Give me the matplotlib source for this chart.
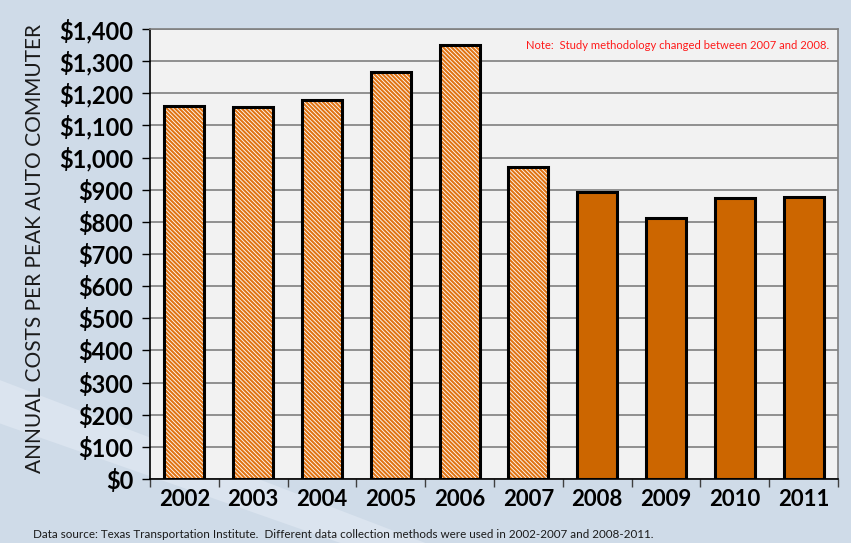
import matplotlib
matplotlib.use("Agg")
import matplotlib.pyplot as plt
from matplotlib.patches import Polygon
from matplotlib.ticker import FuncFormatter, MultipleLocator
import numpy as np

years = ["2002", "2003", "2004", "2005", "2006", "2007", "2008", "2009", "2010", "2011"]
costs = [1160, 1158, 1180, 1265, 1350, 972, 892, 812, 875, 877]
old_method = [True, True, True, True, True, True, False, False, False, False]

note_text = "Note:  Study methodology changed between 2007 and 2008."
source_text = ("Data source: Texas Transportation Institute.  Different data collection "
               "methods were used in 2002-2007 and 2008-2011.")
ylabel_text = "ANNUAL COSTS PER PEAK AUTO COMMUTER"

bold_font = ["Lato", "DejaVu Sans"]
light_font = ["Lato", "DejaVu Sans"]

plt.rcParams["hatch.linewidth"] = 1.5

fig = plt.figure(figsize=(8.51, 5.43), dpi=100)
fig.patch.set_facecolor("#cfdbe8")

# lighter diagonal band across the slide background
band = Polygon([[0.0, 0.30], [0.0, 0.22], [0.40, 0.0], [0.50, 0.0]],
               closed=True, transform=fig.transFigure, facecolor="#dbe4ef",
               edgecolor="none", zorder=-5)
fig.patches.append(band)

ax = fig.add_axes([0.1763, 0.1179, 0.8084, 0.8287])
ax.set_zorder(2)
ax.set_facecolor("#f2f2f2")

x = np.arange(len(years))
width = 0.58

for xi, val, old in zip(x, costs, old_method):
    if old:
        ax.bar(xi, val, width, facecolor="white", edgecolor="#e07414",
               hatch="\\" * 8, linewidth=0, zorder=3)
    else:
        ax.bar(xi, val, width, facecolor="#cc6600", linewidth=0, zorder=3)
    ax.bar(xi, val, width, fill=False, edgecolor="black", linewidth=2.2, zorder=4)

ax.set_ylim(0, 1400)
ax.set_xlim(-0.5, len(years) - 0.5)
ax.yaxis.set_major_locator(MultipleLocator(100))
ax.yaxis.set_major_formatter(FuncFormatter(lambda v, p: f"${v:,.0f}"))
ax.grid(axis="y", color="#7f7f7f", linewidth=1.2, zorder=1)
ax.set_axisbelow(True)

ax.set_xticks(x)
ax.set_xticklabels(years)
ax.set_xticks(np.arange(-0.5, len(years)), minor=True)
ax.tick_params(axis="x", which="major", length=0, pad=7)
ax.tick_params(axis="x", which="minor", length=6, width=1, color="#404040", direction="out")
ax.tick_params(axis="y", length=6, width=1, direction="out", pad=6)

for lab in ax.get_yticklabels():
    lab.set_fontfamily(bold_font)
    lab.set_fontweight("bold")
    lab.set_fontsize(17)
for lab in ax.get_xticklabels():
    lab.set_fontfamily(bold_font)
    lab.set_fontweight("bold")
    lab.set_fontsize(16)

for side in ["top", "right"]:
    ax.spines[side].set_color("#7f7f7f")
    ax.spines[side].set_linewidth(1.2)
ax.spines["left"].set_color("black")
ax.spines["left"].set_linewidth(1.2)
ax.spines["bottom"].set_color("black")
ax.spines["bottom"].set_linewidth(1.2)

fig.text(0.041, 0.543, ylabel_text, rotation=90, ha="center", va="center",
         fontsize=15, family=light_font, color="#1a1a1a")

ax.text(0.547, 0.975, note_text, transform=ax.transAxes, ha="left", va="top",
        fontsize=8.1, color="#ff1a1a", family=light_font)

fig.text(0.039, 0.006, source_text, ha="left", va="bottom", fontsize=8.4,
         color="#1a1a1a", family=light_font)

fig.savefig("out.png", dpi=100, facecolor=fig.get_facecolor())
